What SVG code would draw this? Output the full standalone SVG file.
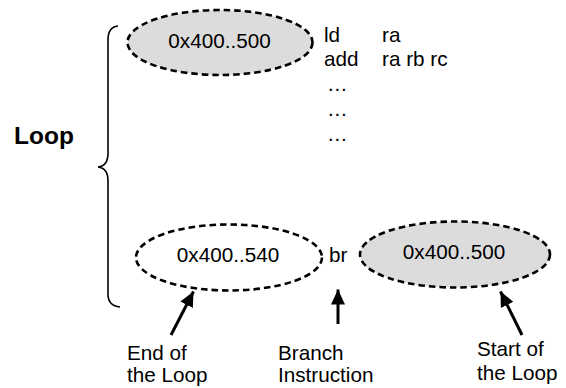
<svg xmlns="http://www.w3.org/2000/svg" width="566" height="388" viewBox="0 0 566 388">
<style>
text{font-family:"Liberation Sans",Arial,sans-serif;font-size:20.7px;fill:#000}
.b{font-weight:bold;font-size:24.5px}
.m{text-anchor:middle}
.ell{stroke:#000;stroke-width:2.6;stroke-dasharray:6.5 4}
.g{fill:#dcdcdc}
.w{fill:#fff}
.arr{stroke:#000;stroke-width:3;fill:none}
.brace{stroke:#000;stroke-width:1.6;fill:none}
</style>
<defs>
<marker id="ah" markerUnits="userSpaceOnUse" markerWidth="16" markerHeight="14" refX="15" refY="7" orient="auto">
<path d="M0,0 L15,7 L0,14 Z" fill="#000"/>
</marker>
</defs>
<g id="loop-label"><text class="b" x="14" y="144">Loop</text></g>
<g id="brace"><path class="brace" d="M118,26 Q108,27 108,40 L108,153 Q108,166 98,167 Q108,168 108,181 L108,294 Q108,306 120,307"/></g>
<g id="start-top">
<ellipse class="ell g" cx="220" cy="42.5" rx="92.5" ry="32.5"/>
<text class="m" x="219.5" y="47.5">0x400..500</text>
</g>
<g id="code">
<text x="324" y="42">ld</text><text x="382" y="42">ra</text>
<text x="324" y="66">add</text><text x="382" y="66">ra rb rc</text>
<text x="327" y="91">…</text>
<text x="327" y="116">…</text>
<text x="327" y="141">…</text>
</g>
<g id="end-node">
<ellipse class="ell w" cx="229" cy="257.5" rx="93" ry="33"/>
<text class="m" x="228" y="262">0x400..540</text>
</g>
<g id="br-node"><text x="329" y="262">br</text></g>
<g id="start-node">
<ellipse class="ell g" cx="455" cy="254.5" rx="95" ry="33"/>
<text class="m" x="454" y="259">0x400..500</text>
</g>
<g id="connectors">
<line class="arr" x1="171" y1="335" x2="193.5" y2="291.5" marker-end="url(#ah)"/>
<line class="arr" x1="338" y1="324" x2="338" y2="289.5" marker-end="url(#ah)"/>
<line class="arr" x1="522" y1="335" x2="500.5" y2="291.5" marker-end="url(#ah)"/>
</g>
<g id="label-end"><text x="127" y="359.5">End of</text><text x="127" y="382">the Loop</text></g>
<g id="label-branch"><text x="278" y="359.5">Branch</text><text x="278" y="382">Instruction</text></g>
<g id="label-start"><text x="477" y="356">Start of</text><text x="477" y="380">the Loop</text></g>
</svg>
